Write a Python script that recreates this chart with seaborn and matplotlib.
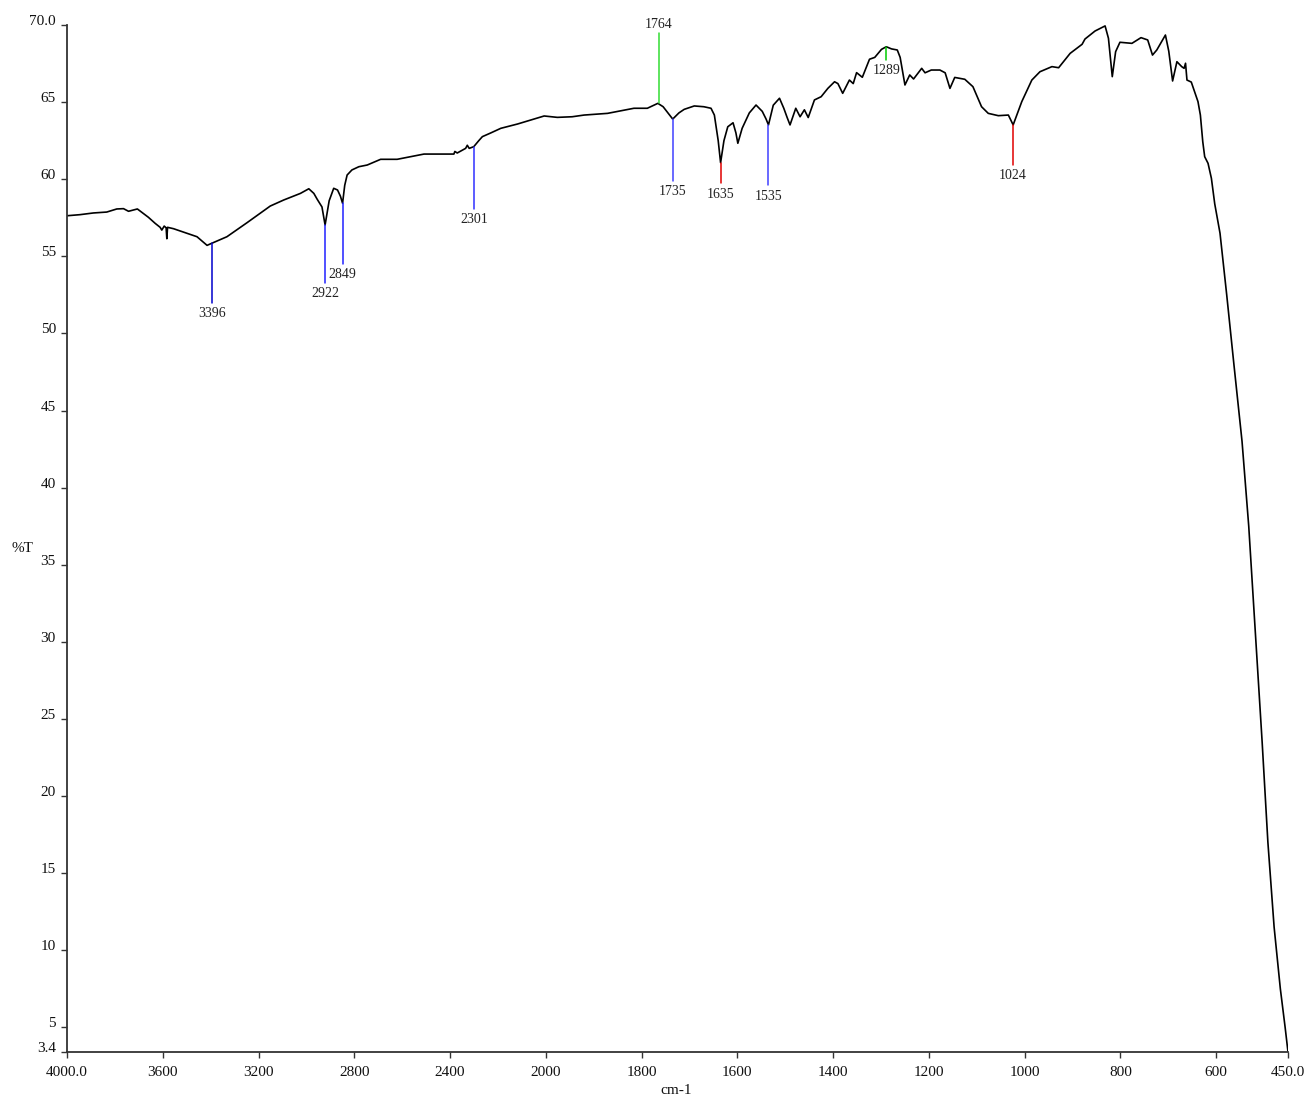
import numpy as np
import pandas as pd
import matplotlib
matplotlib.use("Agg")
import matplotlib.pyplot as plt
import seaborn as sns

# spectrum (wavenumber in cm-1, transmittance in %T)
wavenumber = [
    4000, 3946, 3890, 3834, 3792, 3764, 3743, 3706, 3687, 3660, 3632, 3611,
    3604, 3594, 3586, 3583, 3580, 3555, 3499, 3457, 3415, 3396, 3332, 3248,
    3151, 3095, 3025, 2990, 2969, 2955, 2935, 2922, 2905, 2886, 2870, 2858,
    2849, 2840, 2830, 2810, 2781, 2746, 2690, 2621, 2565, 2509, 2384, 2380,
    2370, 2335, 2328, 2320, 2301, 2280, 2265, 2230, 2188, 2118, 2040, 2007,
    1976, 1945, 1920, 1871, 1816, 1788, 1766, 1755, 1745, 1735, 1722, 1711,
    1690, 1670, 1655, 1648, 1640, 1635, 1628, 1620, 1609, 1603, 1599, 1590,
    1575, 1561, 1548, 1540, 1535, 1525, 1512, 1503, 1496, 1490, 1478, 1469,
    1460, 1452, 1439, 1425, 1411, 1397, 1390, 1380, 1366, 1358, 1351, 1339,
    1324, 1313, 1299, 1289, 1278, 1266, 1260, 1250, 1240, 1232, 1215, 1208,
    1195, 1177, 1166, 1156, 1146, 1125, 1108, 1090, 1076, 1055, 1034, 1024,
    1006, 985, 968, 943, 929, 905, 880, 874, 853, 832, 825, 817,
    810, 801, 776, 757, 743, 733, 724, 706, 699, 691, 682, 672,
    667, 664, 661, 652, 638, 633, 628, 624, 617, 610, 603, 592,
    578, 563, 546, 532, 519, 504, 492, 479, 466, 456, 450,
]
transmittance = [
    57.63, 57.70, 57.81, 57.87, 58.07, 58.09, 57.92, 58.07, 57.85, 57.53, 57.14, 56.88,
    56.70, 56.96, 56.85, 56.14, 56.88, 56.79, 56.49, 56.27, 55.71, 55.84, 56.27, 57.18,
    58.26, 58.65, 59.08, 59.38, 59.08, 58.70, 58.20, 57.03, 58.60, 59.41, 59.30, 58.90,
    58.44, 59.60, 60.27, 60.60, 60.81, 60.92, 61.29, 61.29, 61.46, 61.63, 61.63, 61.80,
    61.70, 62.00, 62.20, 62.00, 62.11, 62.50, 62.76, 63.00, 63.30, 63.58, 63.95, 64.10,
    64.01, 64.05, 64.16, 64.27, 64.60, 64.60, 64.92, 64.70, 64.30, 63.90, 64.30, 64.53,
    64.75, 64.70, 64.60, 64.16, 62.50, 61.07, 62.50, 63.40, 63.66, 63.00, 62.33, 63.30,
    64.30, 64.81, 64.40, 63.90, 63.52, 64.80, 65.25, 64.60, 64.00, 63.52, 64.60, 64.05,
    64.50, 64.00, 65.14, 65.35, 65.89, 66.32, 66.20, 65.57, 66.43, 66.20, 66.91, 66.61,
    67.78, 67.90, 68.42, 68.59, 68.45, 68.38, 67.90, 66.11, 66.76, 66.50, 67.19, 66.90,
    67.08, 67.08, 66.90, 65.89, 66.60, 66.48, 66.00, 64.70, 64.27, 64.12, 64.16, 63.52,
    65.03, 66.43, 66.97, 67.30, 67.23, 68.16, 68.75, 69.09, 69.61, 69.94, 69.14, 66.65,
    68.27, 68.88, 68.81, 69.18, 69.03, 68.05, 68.38, 69.35, 68.30, 66.37, 67.62, 67.30,
    67.19, 67.52, 66.43, 66.30, 65.03, 64.16, 62.43, 61.46, 61.03, 60.06, 58.40, 56.50,
    52.50, 48.00, 43.00, 37.50, 31.00, 23.50, 17.00, 11.50, 7.50, 5.00, 3.40,
]

# marked peaks: label, line start (on curve), line end, colour
peak_labels = ["3396", "2922", "2849", "2301", "1764", "1735", "1635", "1535", "1289", "1024"]
peak_wn = [3396, 2922, 2849, 2301, 1764, 1735, 1635, 1535, 1289, 1024]
peak_from = [55.84, 57.03, 58.44, 62.11, 64.92, 63.90, 61.07, 63.52, 68.59, 63.52]
peak_to = [52.00, 53.25, 54.50, 58.07, 69.50, 59.88, 59.73, 59.60, 67.73, 60.92]
peak_colors = ["#0000cc", "#2020ff", "#2020ff", "#3030ff", "#33dd33",
               "#4040ff", "#e00000", "#4040ff", "#00cc00", "#e00000"]

xticks = [4000, 3600, 3200, 2800, 2400, 2000, 1800, 1600, 1400, 1200, 1000, 800, 600, 450]
xtick_labels = ["4000.0", "3600", "3200", "2800", "2400", "2000", "1800", "1600",
                "1400", "1200", "1000", "800", "600", "450.0"]
yticks = [70, 65, 60, 55, 50, 45, 40, 35, 30, 25, 20, 15, 10, 5, 3.4]
ytick_labels = ["70.0", "65", "60", "55", "50", "45", "40", "35", "30", "25",
                "20", "15", "10", "5", "3.4"]


def fwd(x):
    # wavenumbers above 2000 are drawn at half scale
    x = np.asarray(x, dtype=float)
    return np.where(x > 2000, 2000 + (x - 2000) / 2, x)


def inv(y):
    y = np.asarray(y, dtype=float)
    return np.where(y > 2000, 2000 + (y - 2000) * 2, y)


sns.set_style("white")
plt.rcParams["font.family"] = ["Liberation Serif", "DejaVu Serif"]

df = pd.DataFrame({"wn": wavenumber, "T": transmittance})

fig = plt.figure(figsize=(13.1, 11.02), dpi=100)
ax = fig.add_axes([67 / 1310, 50 / 1102, 1221 / 1310, 1027 / 1102])

sns.lineplot(data=df, x="wn", y="T", ax=ax, color="black", linewidth=1.2,
             sort=False, estimator=None)

ax.set_xscale("function", functions=(fwd, inv))
ax.set_xlim(4000, 450)
ax.set_ylim(3.4, 70)

for lab, wn, y0, y1, c in zip(peak_labels, peak_wn, peak_from, peak_to, peak_colors):
    ax.plot([wn, wn], [y0, y1], color=c, linewidth=1.1)
    if y1 > y0:
        ax.annotate(lab, xy=(wn, y1), xytext=(0, 1), textcoords="offset points",
                    ha="center", va="bottom", fontsize=10, color="#222222")
    else:
        ax.annotate(lab, xy=(wn, y1), xytext=(0, -3), textcoords="offset points",
                    ha="center", va="top", fontsize=10, color="#222222")

ax.set_xticks(xticks)
ax.set_xticklabels(xtick_labels)
ax.set_yticks(yticks)
ax.set_yticklabels(ytick_labels)
for t in ax.get_yticklabels():
    t.set_verticalalignment("baseline")
ax.xaxis.set_minor_locator(matplotlib.ticker.NullLocator())
ax.tick_params(axis="both", which="major", bottom=True, left=True, direction="out",
               length=4, width=1, color="#333333",
               labelsize=11, labelcolor="#111111", pad=4)
ax.tick_params(axis="x", pad=6)

ax.set_xlabel("")
ax.set_ylabel("")
for side in ["top", "right"]:
    ax.spines[side].set_visible(False)
for side in ["left", "bottom"]:
    ax.spines[side].set_color("#333333")
    ax.spines[side].set_linewidth(1.3)

fig.text(22 / 1310, 1 - 549 / 1102, "%T", ha="center", va="center", fontsize=11, color="#111111")
fig.text(676 / 1310, 1 - 1091 / 1102, "cm-1", ha="center", va="center", fontsize=11, color="#111111")

fig.savefig("out.png", dpi=100)
